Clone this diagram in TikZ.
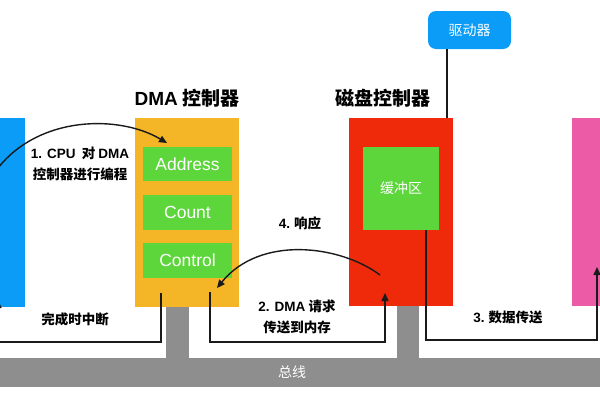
\documentclass[tikz,border=0pt]{standalone}
\usepackage{fontspec}
\setmainfont{Noto Sans CJK SC}
\newfontfamily\latin{Liberation Sans}
\usetikzlibrary{arrows.meta}
\definecolor{cpublue}{HTML}{0A9CF6}
\definecolor{dmaorange}{HTML}{F4B526}
\definecolor{regreen}{HTML}{5DD63C}
\definecolor{diskred}{HTML}{EE2A0B}
\definecolor{mempink}{HTML}{EC5CA6}
\definecolor{busgray}{HTML}{8E8E8E}
\definecolor{wirecol}{HTML}{1A1A1A}
\tikzset{
  box/.style={inner sep=0pt,outer sep=0pt},
  reg/.style={box,fill=regreen,text=white,font=\fontsize{17.5}{20}\latin,
    minimum width=89pt,minimum height=34pt},
  title/.style={font=\fontsize{19}{22}\selectfont\bfseries},
  lbl/.style={font=\fontsize{13.5}{21}\selectfont\bfseries,align=center},
  wire/.style={line width=1.4pt,draw=wirecol},
  arr/.style={wire,-{Triangle[length=8pt,width=7pt]}}
}
\begin{document}
\begin{tikzpicture}[x=1pt,y=-1pt]
  \clip (0,0) rectangle (600,400);
  % bus
  \node[box,fill=busgray,minimum width=640pt,minimum height=29pt,text=white,
    font=\fontsize{14}{16}\selectfont] (bus) at (292,372.5) {总线};
  \node[box,fill=busgray,minimum width=23pt,minimum height=55pt] (dmastub) at (177.5,333) {};
  \node[box,fill=busgray,minimum width=22pt,minimum height=55pt] (diskstub) at (408,333) {};
  % boxes
  \node[box,fill=cpublue,minimum width=105pt,minimum height=189pt] (cpu) at (-27.5,212.5) {};
  \node[box,fill=dmaorange,minimum width=104pt,minimum height=189pt] (dma) at (187,212.5) {};
  \node[reg] (addr) at (187.5,164) {Address};
  \node[reg,minimum height=35pt] (cnt) at (187.5,212.5) {Count};
  \node[reg,minimum height=35pt] (ctrl) at (187.5,260.5) {Control};
  \node[box,fill=diskred,minimum width=104pt,minimum height=188pt] (disk) at (401,212) {};
  \node[box,fill=regreen,minimum width=76pt,minimum height=83pt,text=white,
    font=\fontsize{14}{17}\selectfont] (buf) at (401,188.5) {缓冲区};
  \node[box,fill=mempink,minimum width=108pt,minimum height=188pt] (mem) at (626,212) {};
  \node[box,fill=cpublue,rounded corners=8pt,minimum width=83pt,minimum height=38pt,
    text=white,font=\fontsize{14}{16}\selectfont] (drv) at (469.5,30) {驱动器};
  % titles
  \node[title] (dmatitle) at (187,98) {{\latin\bfseries DMA} 控制器};
  \node[title] (disktitle) at (383,98) {磁盘控制器};
  % points
  \coordinate (c1) at (-2,168);
  \coordinate (a1) at (167,143);
  \coordinate (d1) at (161,293);
  \coordinate (c2) at (-2,300);
  \coordinate (d2) at (210,292);
  \coordinate (k2) at (385,293);
  \coordinate (k4) at (380,275);
  \coordinate (d4) at (217,288);
  \coordinate (b3) at (426,230);
  \coordinate (m3) at (597,267);
  % connectors
  \draw[wire] ([xshift=-22.5pt]drv.south) -- ([xshift=-22.5pt]drv.south |- disk.north);
  \draw[arr] (c1) .. controls (40,115) and (120,115) .. (a1);
  \draw[arr] (d1) -- (d1 |- 0,342) -- (c2 |- 0,342) -- (c2);
  \draw[arr] (d2) -- (d2 |- 0,342) -- (k2 |- 0,342) -- (k2);
  \draw[arr] (k4) .. controls (340,245) and (260,235) .. (d4);
  \draw[arr] (b3) -- (b3 |- 0,340) -- (m3 |- 0,340) -- (m3);
  % labelling
  \node[lbl] (l1) at (80,164) {{\latin\bfseries 1. CPU}\ \ 对 {\latin\bfseries DMA}\\控制器进行编程};
  \node[lbl] (l5) at (75,319) {完成时中断};
  \node[lbl] (l2) at (297,317) {{\latin\bfseries 2. DMA} 请求\\传送到内存};
  \node[lbl] (l4) at (300,223) {{\latin\bfseries 4.} 响应};
  \node[lbl] (l3) at (508,317) {{\latin\bfseries 3.} 数据传送};
\end{tikzpicture}
\end{document}
